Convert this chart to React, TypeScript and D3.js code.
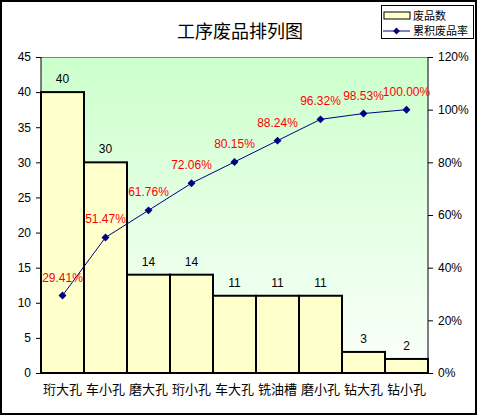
import React, { useEffect, useRef } from "react";
import * as d3 from "d3";

const categories = ["珩大孔", "车小孔", "磨大孔", "珩小孔", "车大孔", "铣油槽", "磨小孔", "钻大孔", "钻小孔"];
const counts = [40, 30, 14, 14, 11, 11, 11, 3, 2];
const cumRates = [29.41, 51.47, 61.76, 72.06, 80.15, 88.24, 96.32, 98.53, 100.0];
const leftTicks = [0, 5, 10, 15, 20, 25, 30, 35, 40, 45];
const rightTicks = [0, 20, 40, 60, 80, 100, 120];

const W = 478;
const H = 416;
const margin = { top: 57, right: 50, bottom: 43, left: 41 };
const NUM_FONT = "Arial, 'Liberation Sans', sans-serif";
const CJK_FONT = "'Noto Sans CJK SC', sans-serif";

const App = () => {
  const ref = useRef<SVGSVGElement>(null);

  useEffect(() => {
    const svg = d3.select(ref.current);
    svg.selectAll("*").remove();

    const pw = W - margin.left - margin.right;
    const ph = H - margin.top - margin.bottom;

    // scales
    const x = d3.scaleBand<string>().domain(categories).range([0, pw]).padding(0);
    const yL = d3.scaleLinear().domain([0, 45]).range([ph, 0]);
    const yR = d3.scaleLinear().domain([0, 120]).range([ph, 0]);

    // gradient
    const defs = svg.append("defs");
    const grad = defs
      .append("linearGradient")
      .attr("id", "bg")
      .attr("x1", 0)
      .attr("y1", 0)
      .attr("x2", 0)
      .attr("y2", 1);
    grad.append("stop").attr("offset", "0%").attr("stop-color", "#ccffcc");
    grad.append("stop").attr("offset", "100%").attr("stop-color", "#fbfffb");

    // outer border
    svg
      .append("rect")
      .attr("x", 1)
      .attr("y", 1)
      .attr("width", W - 3)
      .attr("height", H - 3)
      .attr("fill", "#fff")
      .attr("stroke", "#000")
      .attr("stroke-width", 2);

    // title
    svg
      .append("text")
      .attr("x", 240)
      .attr("y", 38)
      .attr("text-anchor", "middle")
      .attr("font-family", CJK_FONT)
      .attr("font-size", 18)
      .text("工序废品排列图");

    const g = svg.append("g").attr("transform", `translate(${margin.left},${margin.top})`);

    // plot background
    g.append("rect").attr("width", pw).attr("height", ph).attr("fill", "url(#bg)");
    g.append("line")
      .attr("x1", 0)
      .attr("x2", pw)
      .attr("y1", 0.5)
      .attr("y2", 0.5)
      .attr("stroke", "#808080");

    // bars
    g.selectAll("rect.bar")
      .data(counts)
      .enter()
      .append("rect")
      .attr("class", "bar")
      .attr("x", (d, i) => x(categories[i]))
      .attr("y", (d) => yL(d))
      .attr("width", x.bandwidth())
      .attr("height", (d) => ph - yL(d))
      .attr("fill", "#ffffcc")
      .attr("stroke", "#000")
      .attr("stroke-width", 2);

    // bar labels
    g.selectAll("text.blab")
      .data(counts)
      .enter()
      .append("text")
      .attr("x", (d, i) => x(categories[i]) + x.bandwidth() / 2)
      .attr("y", (d) => yL(d) - 9)
      .attr("text-anchor", "middle")
      .attr("font-family", NUM_FONT)
      .attr("font-size", 12)
      .text((d) => d);

    // axes
    const axL = g.append("g").call(d3.axisLeft(yL).tickValues(leftTicks).tickSize(5).tickPadding(5));
    const axR = g
      .append("g")
      .attr("transform", `translate(${pw},0)`)
      .call(d3.axisRight(yR).tickValues(rightTicks).tickSize(5).tickPadding(5).tickFormat((d) => `${d}%`));
    const axB = g
      .append("g")
      .attr("transform", `translate(0,${ph})`)
      .call(d3.axisBottom(x).tickSize(0).tickPadding(12));
    [axL, axR].forEach((a) => {
      a.selectAll("text").attr("font-family", NUM_FONT).attr("font-size", 12).attr("fill", "#000");
      a.selectAll("line").attr("stroke", "#000");
      a.select(".domain").attr("stroke", "#000").attr("d", `M0,0V${ph}`);
    });
    axB.selectAll("text").attr("font-family", CJK_FONT).attr("font-size", 13).attr("fill", "#000");
    axB.select(".domain").attr("stroke", "#000");

    // cumulative line
    const cx = (i: number) => x(categories[i]) + x.bandwidth() / 2;
    const line = d3
      .line<number>()
      .x((d, i) => cx(i))
      .y((d) => yR(d));
    g.append("path")
      .datum(cumRates)
      .attr("d", line)
      .attr("fill", "none")
      .attr("stroke", "#000080")
      .attr("stroke-width", 1);
    g.selectAll("path.mk")
      .data(cumRates)
      .enter()
      .append("path")
      .attr("class", "mk")
      .attr("d", d3.symbol(d3.symbolDiamond2, 40))
      .attr("transform", (d, i) => `translate(${cx(i)},${yR(d)})`)
      .attr("fill", "#000080");
    g.selectAll("text.plab")
      .data(cumRates)
      .enter()
      .append("text")
      .attr("x", (d, i) => cx(i))
      .attr("y", (d) => yR(d) - 14)
      .attr("text-anchor", "middle")
      .attr("font-family", NUM_FONT)
      .attr("font-size", 12)
      .attr("fill", "#ff0000")
      .text((d) => `${d.toFixed(2)}%`);

    // legend
    const lg = svg.append("g").attr("transform", "translate(381,5)");
    lg.append("rect")
      .attr("x", 0.5)
      .attr("y", 0.5)
      .attr("width", 92)
      .attr("height", 33)
      .attr("fill", "#fff")
      .attr("stroke", "#000");
    lg.append("rect")
      .attr("x", 3)
      .attr("y", 7)
      .attr("width", 26)
      .attr("height", 7)
      .attr("fill", "#ffffcc")
      .attr("stroke", "#000");
    lg.append("text")
      .attr("x", 32)
      .attr("y", 15)
      .attr("font-family", CJK_FONT)
      .attr("font-size", 11)
      .text("废品数");
    lg.append("line")
      .attr("x1", 2)
      .attr("x2", 29)
      .attr("y1", 26)
      .attr("y2", 26)
      .attr("stroke", "#000080");
    lg.append("path")
      .attr("d", d3.symbol(d3.symbolDiamond2, 30))
      .attr("transform", "translate(15.5,26)")
      .attr("fill", "#000080");
    lg.append("text")
      .attr("x", 32)
      .attr("y", 30)
      .attr("font-family", CJK_FONT)
      .attr("font-size", 11)
      .text("累积废品率");
  }, []);

  return (
    <svg
      ref={ref}
      width={W}
      height={H}
      style={{ position: "absolute", left: 0, top: 0 }}
    />
  );
};

export default App;
